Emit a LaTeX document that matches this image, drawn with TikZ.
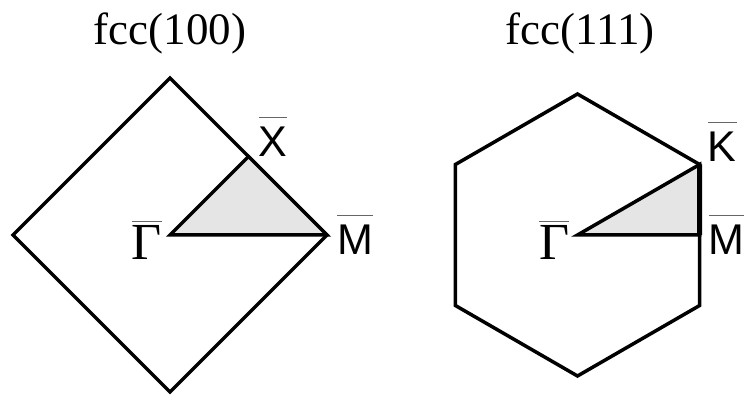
\documentclass[tikz,border=0pt]{standalone}
\usepackage{fontspec}
\setmainfont{Liberation Serif}
\setsansfont{Liberation Sans}
\newcommand{\barred}[2][9pt]{\vbox{{\color{black!60}\hrule height 1.3pt}\kern#1\hbox{#2}}}
\tikzset{
  zone/.style={line width=3.5pt, line join=miter},
  wedge/.style={fill=black!10, line width=3.5pt, line join=miter},
  ptlabel/.style={inner sep=0pt, anchor=base west, font=\sffamily\fontsize{43}{48}\selectfont},
  gammalabel/.style={inner sep=0pt, anchor=base east, font=\fontsize{52}{56}\selectfont},
  title/.style={inner sep=0pt, anchor=base, font=\fontsize{45}{50}\selectfont}
}
\begin{document}
\begin{tikzpicture}[x=1pt,y=1pt]
    \useasboundingbox (0,0) rectangle (744,399);
    % Left: fcc(100), square zone turned by 45 degrees
    \begin{scope}[shift={(170,164)}]
        \coordinate (G1) at (0,0);
        \coordinate (X1) at (78.5,78.5);
        \coordinate (M1) at (157,0);
        \draw[zone] (0,157) -- (-157,0) -- (0,-157) -- (157,0) -- cycle;
        \draw[wedge] (G1) -- (X1) -- (M1) -- cycle;
        \node[title] (t100) at ([yshift=190pt]G1) {fcc(100)};
        \node[gammalabel] (g1) at ([xshift=-8pt,yshift=-25pt]G1) {\barred[4pt]{Γ}};
        \node[ptlabel] (x1) at ([xshift=10pt]X1) {\barred{X}};
        \node[ptlabel] (m1) at ([xshift=10pt,yshift=-20pt]M1) {\barred{M}};
    \end{scope}
    % Right: fcc(111), hexagonal zone
    \begin{scope}[shift={(577.5,164)}]
        \coordinate (G2) at (0,0);
        \coordinate (K2) at (30:141);
        \coordinate (M2) at (122.1,0);
        \draw[zone] (30:141) \foreach \a in {90,150,...,330} { -- (\a:141) } -- cycle;
        \draw[wedge] (G2) -- (K2) -- (M2) -- cycle;
        \draw[line width=5pt] (K2) -- (M2);
        \node[title] (t111) at ([xshift=2.5pt,yshift=190pt]G2) {fcc(111)};
        \node[gammalabel] (g2) at ([xshift=-8pt,yshift=-25pt]G2) {\barred[4pt]{Γ}};
        \node[ptlabel] (k2) at ([xshift=8pt,yshift=3pt]K2) {\barred{K}};
        \node[ptlabel] (m2) at ([xshift=9pt,yshift=-20pt]M2) {\barred{M}};
    \end{scope}
\end{tikzpicture}
\end{document}
